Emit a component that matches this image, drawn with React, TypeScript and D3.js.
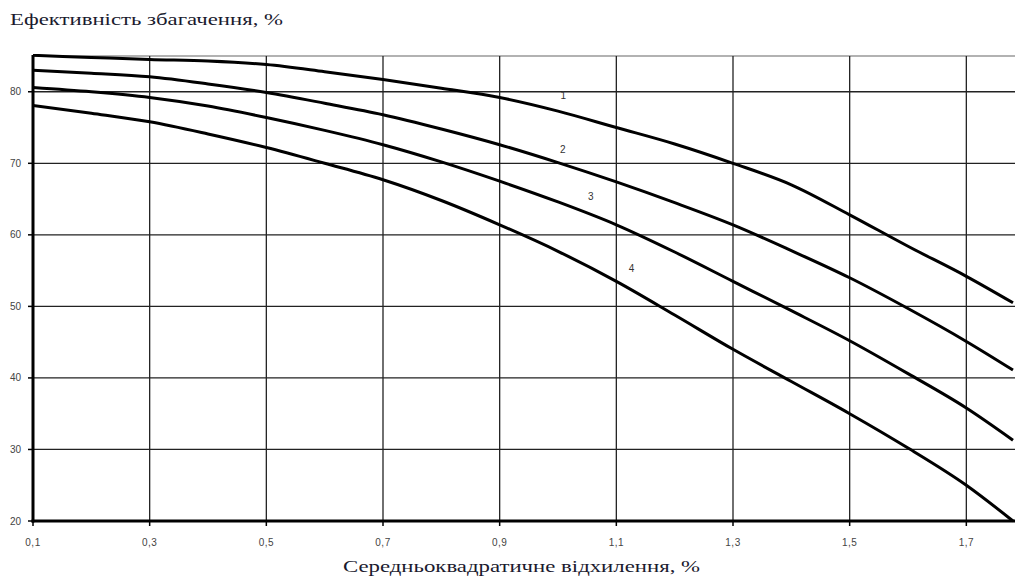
import React from "react";
import * as d3 from "d3";

const xValues = [0.1, 0.2, 0.3, 0.4, 0.5, 0.6, 0.7, 0.8, 0.9, 1.0, 1.1, 1.2, 1.3, 1.4, 1.5, 1.6, 1.7, 1.78];
const curve1 = [85.1, 84.8, 84.5, 84.3, 83.8, 82.8, 81.7, 80.5, 79.2, 77.3, 75.0, 72.7, 70.0, 67.0, 62.8, 58.4, 54.2, 50.5];
const curve2 = [83.0, 82.6, 82.1, 81.1, 79.9, 78.4, 76.8, 74.8, 72.6, 70.1, 67.4, 64.5, 61.4, 57.8, 54.0, 49.7, 45.1, 41.1];
const curve3 = [80.6, 80.0, 79.2, 78.0, 76.4, 74.6, 72.6, 70.2, 67.5, 64.6, 61.4, 57.6, 53.5, 49.4, 45.2, 40.6, 35.8, 31.3];
const curve4 = [78.1, 77.0, 75.8, 74.1, 72.2, 70.0, 67.7, 64.8, 61.4, 57.7, 53.5, 48.8, 44.0, 39.5, 35.0, 30.2, 25.0, 20.0];
const seriesNames = ["1", "2", "3", "4"];
const labelAt = [[1.009, 79.5], [1.008, 72.0], [1.056, 65.3], [1.126, 55.3]];
const xTicks = [0.1, 0.3, 0.5, 0.7, 0.9, 1.1, 1.3, 1.5, 1.7];
const yTicks = [20, 30, 40, 50, 60, 70, 80];

export default function App() {
  const W = 1015, H = 582;
  const x = d3.scaleLinear().domain([0.1, 1.78]).range([33, 1013]);
  const y = d3.scaleLinear().domain([20, 85]).range([521, 56]);
  const line = d3.line<number>().x((_, i) => x(xValues[i])).y((d) => y(d)).curve(d3.curveMonotoneX);
  const all = [curve1, curve2, curve3, curve4];
  const fmt = (v: number) => v.toFixed(1).replace(".", ",");
  return (
    <svg width={W} height={H} style={{ position: "absolute", left: 0, top: 0, background: "#fff" }}>
      <defs>
        <clipPath id="pa"><rect x={33} y={54} width={W - 33} height={470} /></clipPath>
      </defs>
      <text x={10} y={25} fontFamily="Liberation Serif" fontSize={17} fill="#1a1a2e" textLength={273} lengthAdjust="spacingAndGlyphs">Ефективність збагачення, %</text>
      <line x1={33} x2={W} y1={y(85)} y2={y(85)} stroke="#999" strokeWidth={1.5} />
      {yTicks.filter((t) => t > 20).map((t) => (
        <line key={"h" + t} x1={33} x2={W} y1={y(t)} y2={y(t)} stroke="#222" strokeWidth={1.3} />
      ))}
      {xTicks.filter((t) => t > 0.1).map((t) => (
        <line key={"v" + t} x1={x(t)} x2={x(t)} y1={y(85)} y2={y(20)} stroke="#222" strokeWidth={1.3} />
      ))}
      <g clipPath="url(#pa)">
        {all.map((s, i) => (
          <path key={i} d={line(s) || ""} fill="none" stroke="#000" strokeWidth={3} strokeLinejoin="round" />
        ))}
      </g>
      <line x1={33} x2={33} y1={y(85) - 1} y2={y(20) + 1.5} stroke="#000" strokeWidth={3} />
      <line x1={31.5} x2={W} y1={y(20)} y2={y(20)} stroke="#000" strokeWidth={3} />
      {yTicks.map((t) => (
        <g key={"yt" + t}>
          <line x1={28} x2={33} y1={y(t)} y2={y(t)} stroke="#000" strokeWidth={1.5} />
          <text x={21} y={y(t) + 3.5} textAnchor="end" fontFamily="Liberation Sans" fontSize={10} fill="#444">{t}</text>
        </g>
      ))}
      {xTicks.map((t) => (
        <g key={"xt" + t}>
          <line x1={x(t)} x2={x(t)} y1={y(20)} y2={y(20) + 5} stroke="#000" strokeWidth={1.5} />
          <text x={x(t)} y={546} textAnchor="middle" fontFamily="Liberation Sans" fontSize={10} fill="#444" letterSpacing={0.5}>{fmt(t)}</text>
        </g>
      ))}
      {seriesNames.map((n, i) => (
        <text key={"l" + n} x={x(labelAt[i][0])} y={y(labelAt[i][1]) + 3.5} textAnchor="middle" fontFamily="Liberation Sans" fontSize={10} fill="#333">{n}</text>
      ))}
      <text x={343} y={572} fontFamily="Liberation Serif" fontSize={17} fill="#1a1a2e" textLength={357} lengthAdjust="spacingAndGlyphs">Середньоквадратичне відхилення, %</text>
    </svg>
  );
}
